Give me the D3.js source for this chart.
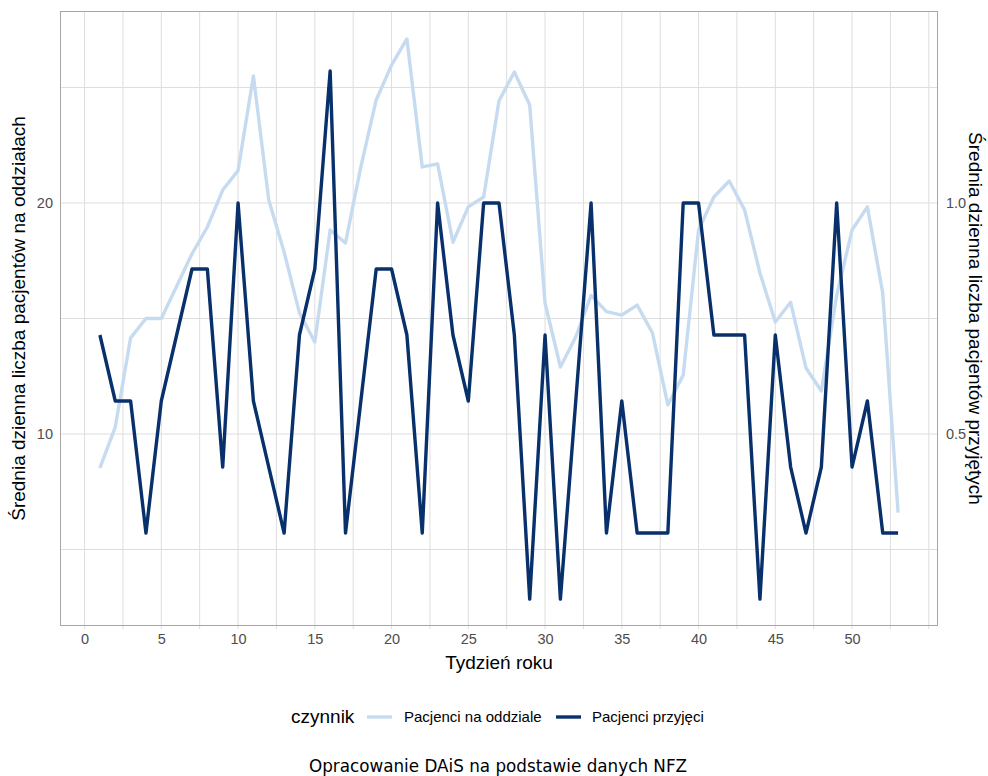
<!DOCTYPE html>
<html><head><meta charset="utf-8">
<script src="https://cdn.jsdelivr.net/npm/d3@7"></script>
<style>body{margin:0;background:#fff}svg{display:block}</style>
</head><body>
<svg id="chart" width="988" height="776"></svg>
<script>
const weeks = d3.range(1, 54);
const naOddziale = [8.53,10.3,14.16,15.0,15.0,16.4,17.8,18.96,20.56,21.4,25.5,20.13,17.88,15.24,13.98,18.83,18.27,21.56,24.46,25.97,27.1,21.56,21.69,18.3,19.83,20.26,24.42,25.67,24.24,15.67,12.9,14.2,16.0,15.3,15.15,15.58,14.37,11.26,12.55,18.83,20.26,20.95,19.7,16.97,14.85,15.7,12.86,11.86,16.0,18.83,19.83,16.1,6.6];
const przyjeciSevenths = [5,4,4,2,4,5,6,6,3,7,4,3,2,5,6,9,2,4,6,6,5,2,7,5,4,7,7,5,1,5,1,4,7,2,4,2,2,2,7,7,5,5,5,1,5,3,2,3,7,3,4,2,2];
const przyjeci = przyjeciSevenths.map(k => k / 7);
const xTicks = [0,5,10,15,20,25,30,35,40,45,50];
const yLeftTicks = [10,20];
const yRightTicks = [0.5,1.0];
const seriesNames = ["Pacjenci na oddziale","Pacjenci przyjęci"];
const colors = ["#c6dbef","#08306b"];
const scaleFactor = 20;

const svg = d3.select("#chart");
const m = {l:60, r:50, t:11, b:150};
const W = 988, H = 776;
const pw = W - m.l - m.r, ph = H - m.t - m.b;

const x = d3.scaleLinear().domain([-1.6, 55.6]).range([m.l, m.l + pw]);
const y = d3.scaleLinear().domain([1.69, 28.31]).range([m.t + ph, m.t]);
const yR = d3.scaleLinear().domain([1.69/scaleFactor, 28.31/scaleFactor]).range([m.t + ph, m.t]);

const grid = svg.append("g");
const xGrid = d3.range(0, 55.1, 2.5);
grid.selectAll(".vx").data(xGrid).enter().append("line")
  .attr("x1", d => x(d)).attr("x2", d => x(d))
  .attr("y1", m.t).attr("y2", m.t + ph + 3)
  .attr("stroke", "#dedede").attr("stroke-width", 1);
const yGrid = [5,10,15,20,25];
grid.selectAll(".hy").data(yGrid).enter().append("line")
  .attr("x1", m.l).attr("x2", m.l + pw)
  .attr("y1", d => y(d)).attr("y2", d => y(d))
  .attr("stroke", "#dedede").attr("stroke-width", 1);

svg.append("path").datum(naOddziale)
  .attr("d", d3.line().x((d,i) => x(weeks[i])).y(d => y(d)))
  .attr("fill", "none").attr("stroke", colors[0]).attr("stroke-width", 3.4)
  .attr("stroke-linejoin", "round");
svg.append("path").datum(przyjeci)
  .attr("d", d3.line().x((d,i) => x(weeks[i])).y(d => yR(d)))
  .attr("fill", "none").attr("stroke", colors[1]).attr("stroke-width", 3.4)
  .attr("stroke-linejoin", "round");

svg.append("rect").attr("x", m.l + 0.5).attr("y", m.t + 0.5)
  .attr("width", pw - 1).attr("height", ph - 1)
  .attr("fill", "none").attr("stroke", "#a6a6a6").attr("stroke-width", 1);

const font = "'Liberation Sans', Arial, sans-serif";
const tickSize = "14.5px";
const xa = svg.append("g").attr("transform", `translate(0,${m.t + ph})`)
  .call(d3.axisBottom(x).tickValues(xTicks).tickSize(0).tickPadding(8).tickFormat(d3.format("d")));
xa.select(".domain").remove();
xa.selectAll("text").attr("fill", "#4d4d4d").style("font-family", font).style("font-size", tickSize);
const ya = svg.append("g").attr("transform", `translate(${m.l},0)`)
  .call(d3.axisLeft(y).tickValues(yLeftTicks).tickSize(0).tickPadding(7));
ya.select(".domain").remove();
ya.selectAll("text").attr("fill", "#4d4d4d").style("font-family", font).style("font-size", tickSize);
const yra = svg.append("g").attr("transform", `translate(${m.l + pw},0)`)
  .call(d3.axisRight(yR).tickValues(yRightTicks).tickSize(0).tickPadding(8).tickFormat(d3.format(".1f")));
yra.select(".domain").remove();
yra.selectAll("text").attr("fill", "#4d4d4d").style("font-family", font).style("font-size", tickSize);

const titleSize = "19px";
svg.append("text").attr("x", m.l + pw/2).attr("y", 669).attr("text-anchor", "middle")
  .style("font-family", font).style("font-size", titleSize).attr("fill", "#000").text("Tydzień roku");
svg.append("text").attr("transform", `translate(25,${m.t + ph/2}) rotate(-90)`).attr("text-anchor", "middle")
  .style("font-family", font).style("font-size", titleSize).attr("fill", "#000")
  .text("Średnia dzienna liczba pacjentów na oddziałach");
svg.append("text").attr("transform", `translate(969,${m.t + ph/2}) rotate(90)`).attr("text-anchor", "middle")
  .style("font-family", font).style("font-size", titleSize).attr("fill", "#000")
  .text("Średnia dzienna liczba pacjentów przyjętych");

const lg = svg.append("g");
lg.append("text").attr("x", 291).attr("y", 723).style("font-family", font).style("font-size", titleSize)
  .attr("fill", "#000").text("czynnik");
const keyX = [367, 556], labX = [404, 592];
seriesNames.forEach((s, i) => {
  lg.append("line").attr("x1", keyX[i]).attr("x2", keyX[i] + 25).attr("y1", 717).attr("y2", 717)
    .attr("stroke", colors[i]).attr("stroke-width", 3.4);
  lg.append("text").attr("x", labX[i]).attr("y", 722).style("font-family", font).style("font-size", "15px")
    .attr("fill", "#000").text(s);
});

svg.append("text").attr("x", 498).attr("y", 772).attr("text-anchor", "middle")
  .style("font-family", "'DejaVu Sans', sans-serif").style("font-size", "16.8px").attr("fill", "#000")
  .text("Opracowanie DAiS na podstawie danych NFZ");
</script>
</body></html>
